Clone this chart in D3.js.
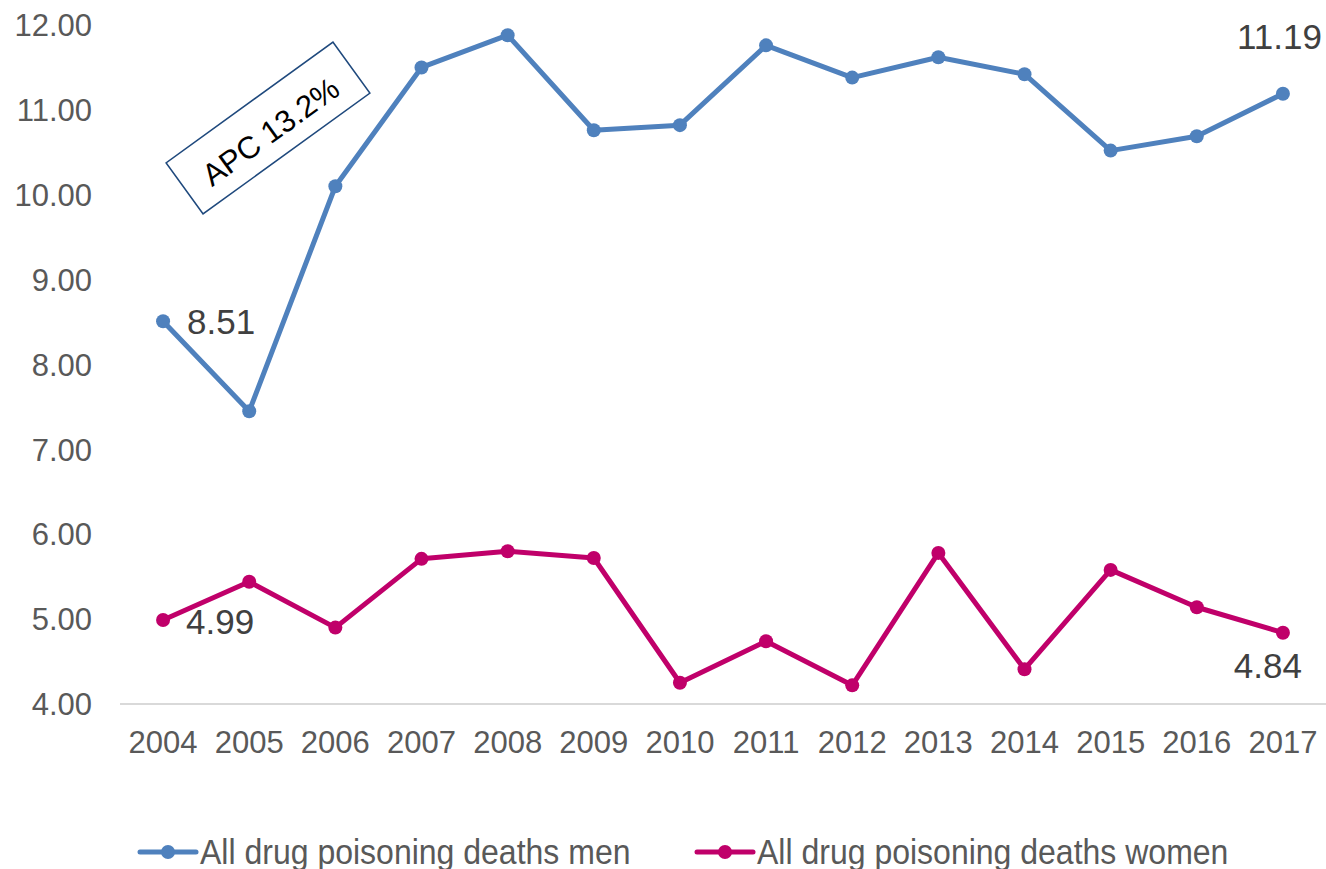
<!DOCTYPE html>
<html>
<head>
<meta charset="utf-8">
<script src="https://cdn.jsdelivr.net/npm/d3@7"></script>
<style>
  body { margin: 0; background: #fff; }
  svg { display: block; font-family: "Liberation Sans", Arial, sans-serif; }
</style>
</head>
<body>
<svg id="chart"></svg>
<script>
const WIDTH = 1326;
const HEIGHT = 869;

const years = ["2004", "2005", "2006", "2007", "2008", "2009", "2010", "2011", "2012", "2013", "2014", "2015", "2016", "2017"];
const menValues = [8.51, 7.45, 10.10, 11.50, 11.88, 10.76, 10.82, 11.76, 11.38, 11.62, 11.42, 10.52, 10.69, 11.19];
const womenValues = [4.99, 5.44, 4.90, 5.71, 5.80, 5.72, 4.25, 4.74, 4.22, 5.78, 4.41, 5.58, 5.14, 4.84];
const yTicks = [4, 5, 6, 7, 8, 9, 10, 11, 12];
const seriesNames = ["All drug poisoning deaths men", "All drug poisoning deaths women"];
const seriesColors = ["#4f81bd", "#c0006a"];

const svg = d3.select("#chart").attr("width", WIDTH).attr("height", HEIGHT);

const x = d3.scaleBand().domain(years).range([120, 1326]);
const y = d3.scaleLinear().domain([4, 12]).range([704, 25]);
const cx = d => x(d) + x.bandwidth() / 2;

// y axis labels (no line)
svg.append("g")
    .selectAll("text")
    .data(yTicks)
    .enter()
    .append("text")
    .attr("x", 92)
    .attr("y", d => y(d))
    .attr("dy", "0.36em")
    .attr("text-anchor", "end")
    .attr("font-size", 31)
    .attr("fill", "#595959")
    .text(d => d.toFixed(2));

// x axis
svg.append("line")
    .attr("x1", x.range()[0]).attr("x2", x.range()[1])
    .attr("y1", y(4)).attr("y2", y(4))
    .attr("stroke", "#d9d9d9")
    .attr("stroke-width", 2);

svg.append("g")
    .selectAll("text")
    .data(years)
    .enter()
    .append("text")
    .attr("x", d => cx(d))
    .attr("y", 753)
    .attr("text-anchor", "middle")
    .attr("font-size", 31)
    .attr("fill", "#595959")
    .text(d => d);

// series
const series = [menValues, womenValues];
const line = d3.line().x((v, i) => cx(years[i])).y(v => y(v));

series.forEach((values, s) => {
    const g = svg.append("g");
    g.append("path")
        .datum(values)
        .attr("d", line)
        .attr("fill", "none")
        .attr("stroke", seriesColors[s])
        .attr("stroke-width", 5)
        .attr("stroke-linejoin", "round");
    g.selectAll("circle")
        .data(values)
        .enter()
        .append("circle")
        .attr("cx", (v, i) => cx(years[i]))
        .attr("cy", v => y(v))
        .attr("r", 7)
        .attr("fill", seriesColors[s]);
});

// data labels on first / last points
const labels = [
    { v: menValues[0], i: 0, dx: 24, dy: 13, anchor: "start" },
    { v: menValues[13], i: 13, dx: 39, dy: -45, anchor: "end" },
    { v: womenValues[0], i: 0, dx: 23, dy: 14, anchor: "start" },
    { v: womenValues[13], i: 13, dx: 19, dy: 45, anchor: "end" }
];
svg.append("g")
    .selectAll("text")
    .data(labels)
    .enter()
    .append("text")
    .attr("x", d => cx(years[d.i]) + d.dx)
    .attr("y", d => y(d.v) + d.dy)
    .attr("text-anchor", d => d.anchor)
    .attr("font-size", 35)
    .attr("fill", "#404040")
    .text(d => d.v.toFixed(2));

// APC annotation box
const apc = svg.append("g").attr("transform", "translate(268,128) rotate(-35.9)");
apc.append("rect")
    .attr("x", -103).attr("y", -31.5)
    .attr("width", 206).attr("height", 63)
    .attr("fill", "#fff")
    .attr("stroke", "#1f497d")
    .attr("stroke-width", 1.5);
apc.append("text")
    .attr("x", 0).attr("y", 4)
    .attr("dy", "0.36em")
    .attr("text-anchor", "middle")
    .attr("font-size", 31)
    .attr("fill", "#000")
    .text("APC 13.2%");

// legend
const legendX = [140, 697];
const legend = svg.append("g")
    .selectAll("g")
    .data(seriesNames)
    .enter()
    .append("g")
    .attr("transform", (d, i) => "translate(" + legendX[i] + ",852)");
legend.append("line")
    .attr("x1", 0).attr("x2", 56)
    .attr("stroke", (d, i) => seriesColors[i])
    .attr("stroke-width", 5)
    .attr("stroke-linecap", "round");
legend.append("circle")
    .attr("cx", 28).attr("r", 7)
    .attr("fill", (d, i) => seriesColors[i]);
legend.append("text")
    .attr("transform", "translate(60,12) scale(1,1.09)")
    .attr("font-size", 32)
    .attr("fill", "#595959")
    .text(d => d);
</script>
</body>
</html>
